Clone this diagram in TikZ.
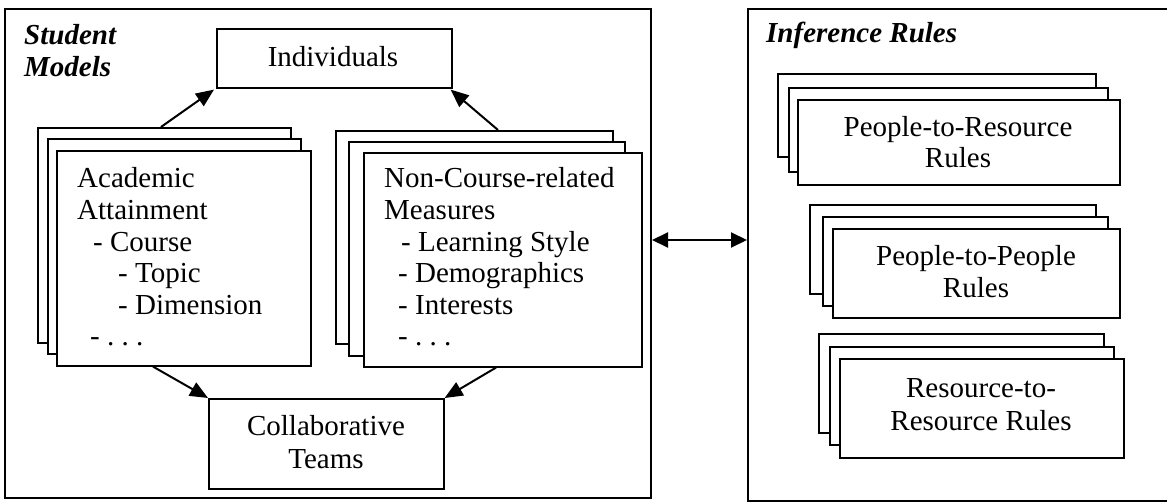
\documentclass[tikz,border=0pt]{standalone}
\usepackage{fontspec}
\setmainfont{Liberation Serif}
\usetikzlibrary{arrows.meta,calc}
\begin{document}
\begin{tikzpicture}[x=1pt,y=-1pt,
  panel/.style={draw, line width=2pt, inner sep=0pt, anchor=north west},
  card/.style={draw, fill=white, line width=1.6pt, inner sep=0pt, anchor=north west},
  txt/.style={font=\fontsize{29}{32}\selectfont, inner sep=0pt},
  ttl/.style={txt, font=\fontsize{29}{32}\selectfont\bfseries\itshape, anchor=base west},
  arr/.style={-{Triangle[length=18pt,width=15pt]}, line width=2pt},
  darr/.style={{Triangle[length=16pt,width=15pt]}-{Triangle[length=16pt,width=15pt]}, line width=2pt}]
\clip (0,0) rectangle (1167,502);
% panels
\node[panel, minimum width=646pt, minimum height=489pt] (sm) at (4,8) {};
\node[panel, minimum width=440pt, minimum height=492pt] (ir) at (747,8) {};
\node[ttl] (smt1) at (24,45) {Student};
\node[ttl] (smt2) at (24,77) {Models};
\node[ttl] (irt) at (766,43) {Inference Rules};
% individuals
\node[card, minimum width=235pt, minimum height=59pt] (ind) at (216,28) {};
\node[txt, anchor=base] (indt) at (333,67) {Individuals};
% academic stack
\node[card, minimum width=253pt, minimum height=215pt] (la) at (37,127) {};
\node[card, minimum width=253pt, minimum height=215pt] (lb) at (47,138) {};
\node[card, minimum width=254pt, minimum height=215pt] (lc) at (56,150) {};
\node[txt, anchor=base west] (a1) at (77,188) {Academic};
\node[txt, anchor=base west] (a2) at (77,220) {Attainment};
\node[txt, anchor=base west] (a3) at (93,252) {- Course};
\node[txt, anchor=base west] (a4) at (118,283) {- Topic};
\node[txt, anchor=base west] (a5) at (118,315) {- Dimension};
\node[txt, anchor=base west] (a6) at (90,346) {-\ .\ .\ .};
% non-course stack
\node[card, minimum width=277pt, minimum height=213pt] (ra) at (335,130) {};
\node[card, minimum width=276pt, minimum height=214pt] (rb) at (348,141) {};
\node[card, minimum width=278pt, minimum height=214pt] (rc) at (363,152) {};
\node[txt, anchor=base west] (n1) at (384,188) {Non-Course-related};
\node[txt, anchor=base west] (n2) at (384,220) {Measures};
\node[txt, anchor=base west] (n3) at (401,252) {- Learning Style};
\node[txt, anchor=base west] (n4) at (398,283) {- Demographics};
\node[txt, anchor=base west] (n5) at (398,315) {- Interests};
\node[txt, anchor=base west] (n6) at (398,346) {-\ .\ .\ .};
% collaborative
\node[card, minimum width=235pt, minimum height=90pt] (col) at (208,398) {};
\node[txt, anchor=base] (c1) at (326,435) {Collaborative};
\node[txt, anchor=base] (c2) at (326,468) {Teams};
% rule stacks
\node[card, minimum width=318pt, minimum height=83pt] (pra) at (777,73) {};
\node[card, minimum width=319pt, minimum height=84pt] (prb) at (788,87) {};
\node[card, minimum width=322pt, minimum height=85pt] (prc) at (797,99) {};
\node[txt, anchor=base] (pr1) at (958,137) {People-to-Resource};
\node[txt, anchor=base] (pr2) at (958,168) {Rules};
\node[card, minimum width=286pt, minimum height=89pt] (ppa) at (809,204) {};
\node[card, minimum width=285pt, minimum height=89pt] (ppb) at (822,216) {};
\node[card, minimum width=287pt, minimum height=89pt] (ppc) at (832,228) {};
\node[txt, anchor=base] (pp1) at (976,266) {People-to-People};
\node[txt, anchor=base] (pp2) at (976,298) {Rules};
\node[card, minimum width=285pt, minimum height=99pt] (rra) at (818,333) {};
\node[card, minimum width=284pt, minimum height=98pt] (rrb) at (829,346) {};
\node[card, minimum width=284pt, minimum height=99pt] (rrc) at (839,358) {};
\node[txt, anchor=base] (rr1) at (981,397) {Resource-to-};
\node[txt, anchor=base] (rr2) at (981,430) {Resource Rules};
% connectors
\coordinate (s1) at ($(la.north west)+(124,0)$);
\coordinate (s2) at ($(ra.north west)+(163,0)$);
\coordinate (s3) at ($(lc.south west)+(97,0)$);
\coordinate (s4) at ($(rc.south west)+(133,0)$);
\coordinate (mid) at (700,240);
\draw[arr] (s1) -- ($(ind.south west)+(-2,1)$);
\draw[arr] (s2) -- ($(ind.south east)+(-2,1)$);
\draw[arr] (s3) -- (col.north west);
\draw[arr] (s4) -- (col.north east);
\draw[darr] (sm.east |- mid) -- (ir.west |- mid);
\end{tikzpicture}
\end{document}
